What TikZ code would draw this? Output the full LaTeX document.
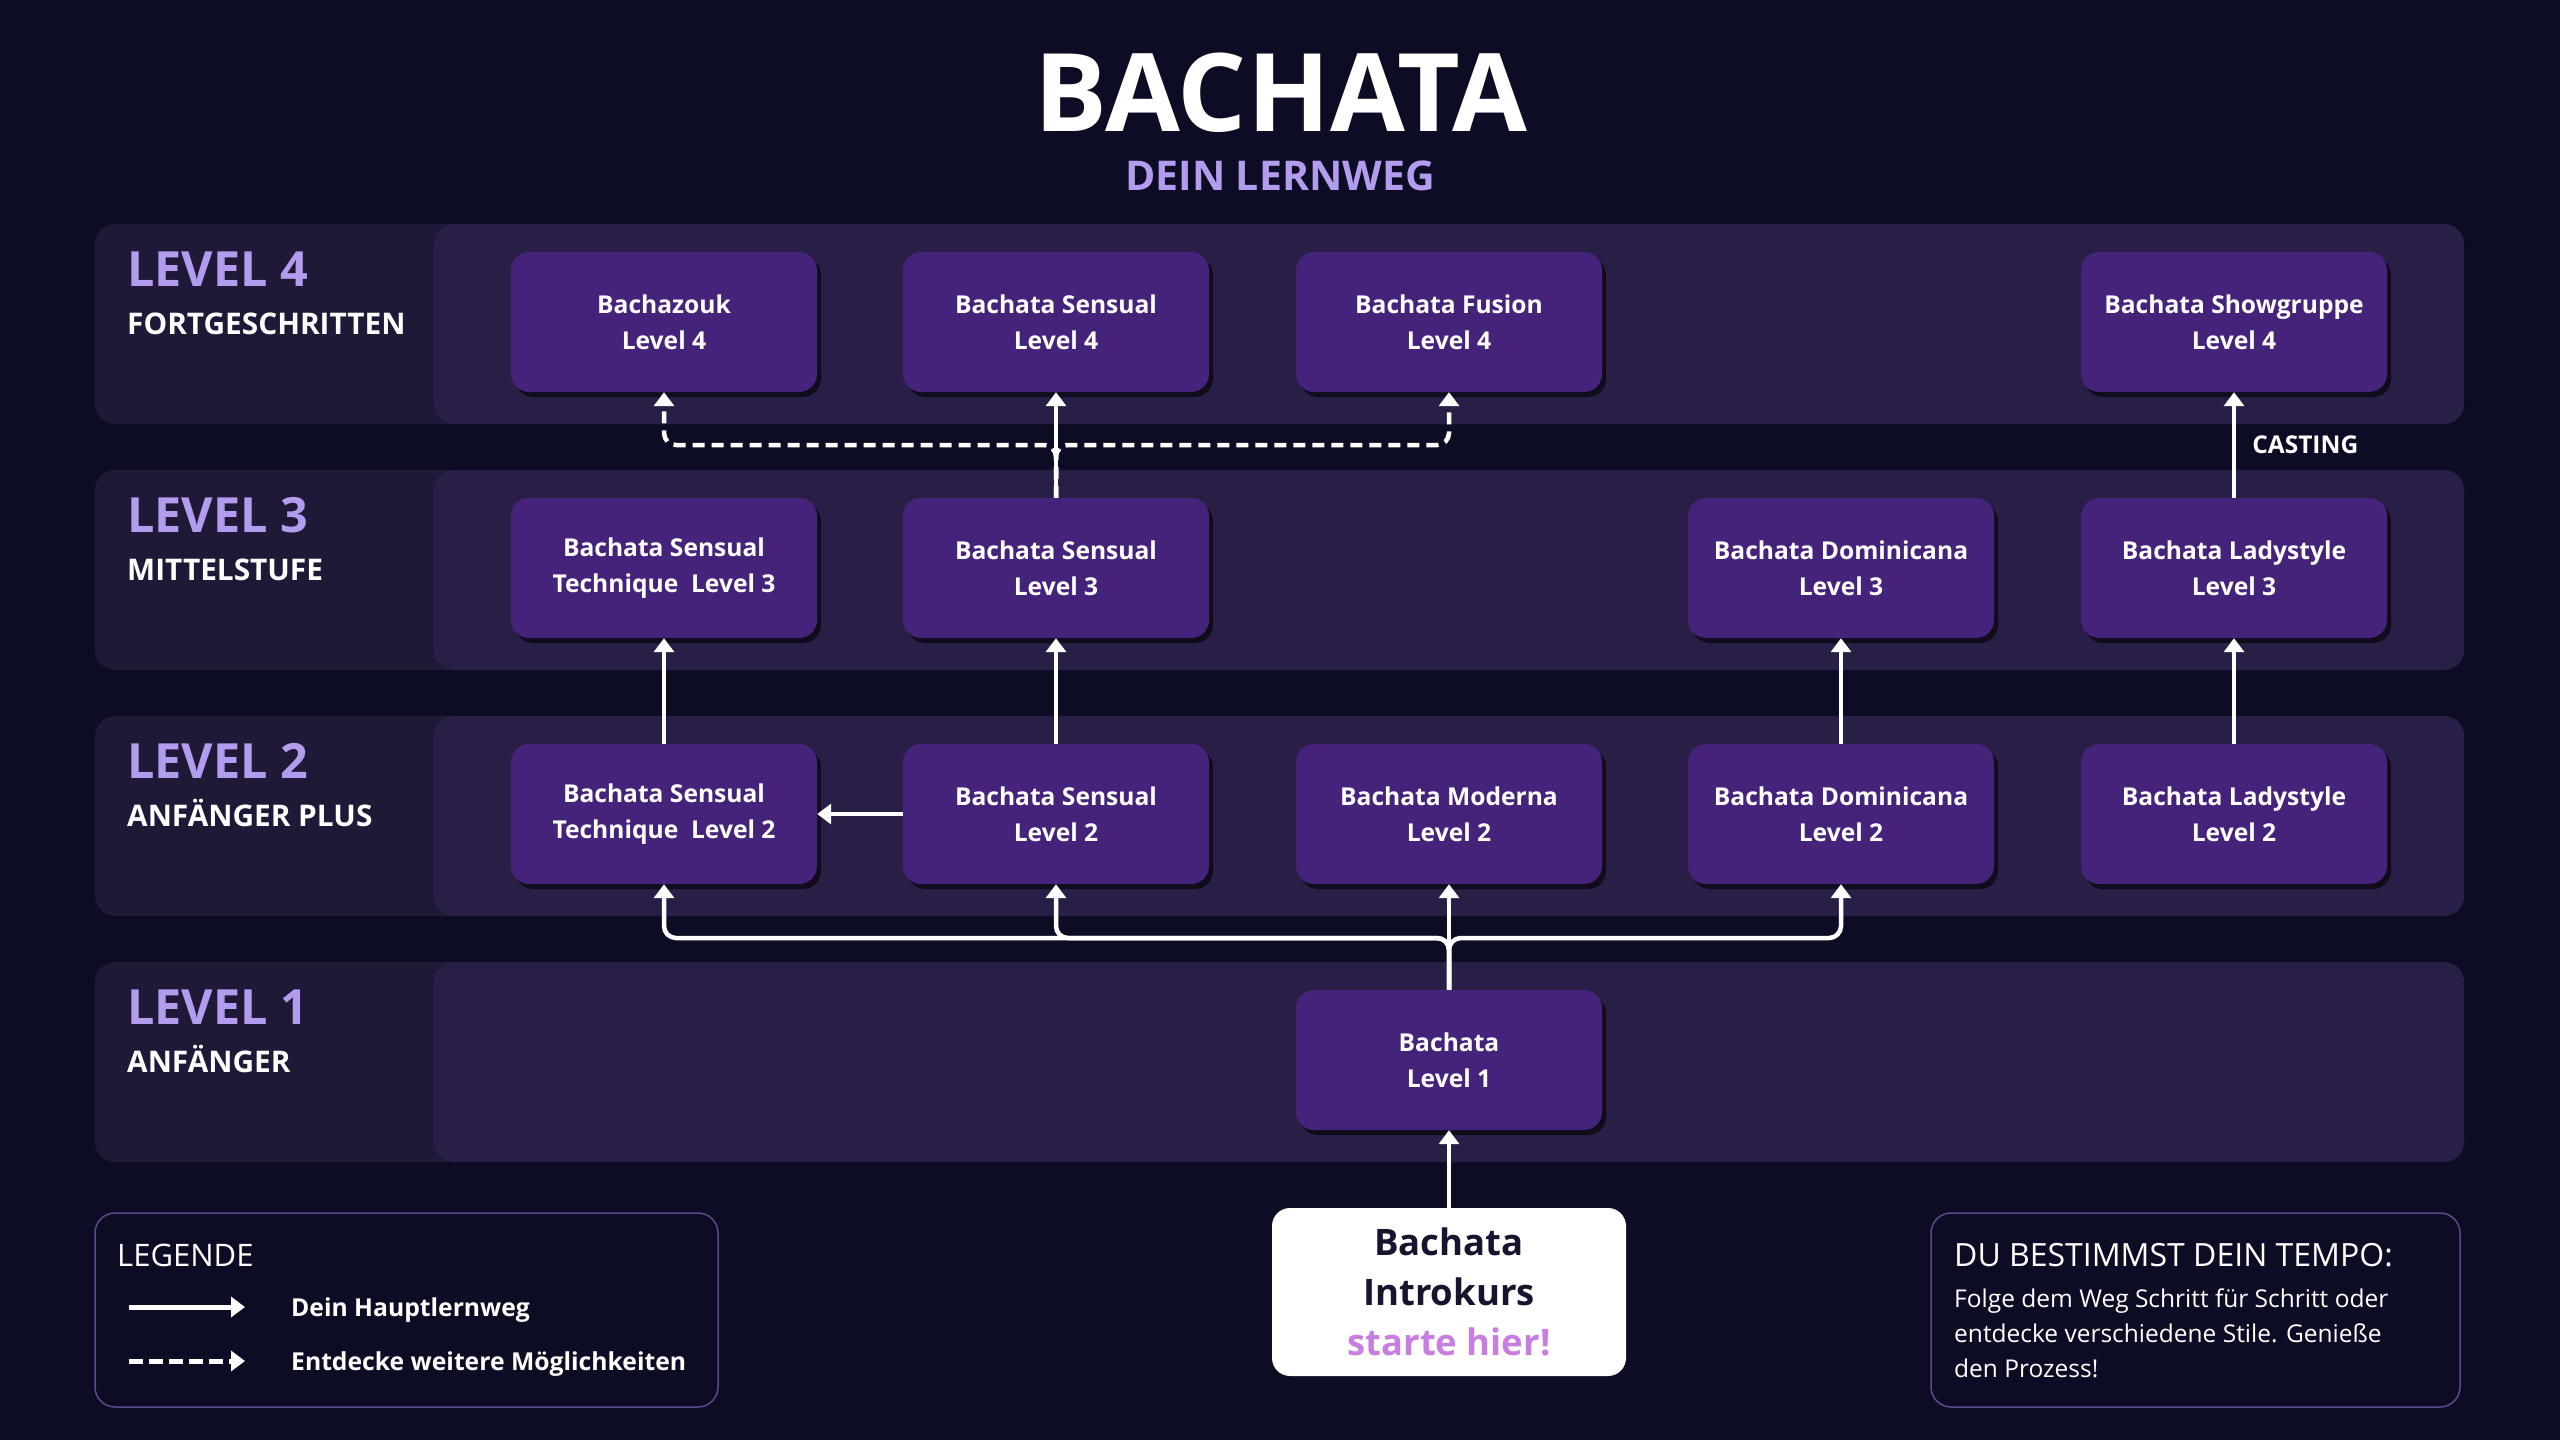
\documentclass[tikz,border=0pt]{standalone}
\usepackage{fontspec}
\setmainfont{Open Sans}
\usetikzlibrary{arrows.meta,shadows,positioning}

\definecolor{bgnavy}{HTML}{0C0C24}
\definecolor{bandouter}{HTML}{1F1836}
\definecolor{bandinner}{HTML}{281E46}
\definecolor{boxpurple}{HTML}{45237A}
\definecolor{lavender}{HTML}{B39CEE}
\definecolor{startpink}{HTML}{C87DE0}
\definecolor{framelav}{HTML}{5A4C8C}
\definecolor{introtext}{HTML}{16142E}

\tikzset{
	course/.style={fill=boxpurple, rounded corners=18pt, minimum width=306pt, minimum height=140pt,
		inner sep=4pt, align=center, text=white, font=\fontsize{24.6}{36}\selectfont\bfseries,
		drop shadow={shadow xshift=4pt, shadow yshift=-5pt, fill=black, opacity=0.6}},
	mainway/.style={draw=white, line width=4.5pt, rounded corners=12pt,
		-{Triangle[length=14pt, width=20pt]}},
	sideway/.style={mainway, dash pattern=on 12pt off 7pt},
	band/.style={fill=bandouter, rounded corners=20pt},
	bandcore/.style={fill=bandinner, rounded corners=20pt},
	levelname/.style={anchor=base west, inner sep=0pt, text=lavender,
		font=\fontsize{48.5}{50}\selectfont\bfseries},
	levelstage/.style={anchor=base west, inner sep=0pt, text=white,
		font=\fontsize{29.8}{32}\selectfont\bfseries},
	infobox/.style={draw=framelav, line width=1.5pt, rounded corners=20pt, inner sep=0pt},
	plain/.style={anchor=base west, inner sep=0pt, text=white},
}

\begin{document}
\begin{tikzpicture}[x=1pt, y=-1pt]
	\useasboundingbox (0,0) rectangle (2560,1440);
	\fill[bgnavy] (0,0) rectangle (2560,1440);

	% title
	\node[anchor=base, inner sep=0pt, text=white, font=\fontsize{108.5}{112}\selectfont\bfseries]
		(title) at (1281,131) {BACHATA};
	\node[anchor=base, inner sep=0pt, text=lavender, font=\fontsize{41}{44}\selectfont\bfseries]
		(subtitle) at (1280,190) {DEIN LERNWEG};

	% level bands
	\fill[band] (95,224) rectangle (2464,424);
	\fill[bandcore] (434,224) rectangle (2464,424);
	\fill[band] (95,470) rectangle (2464,670);
	\fill[bandcore] (434,470) rectangle (2464,670);
	\fill[band] (95,716) rectangle (2464,916);
	\fill[bandcore] (434,716) rectangle (2464,916);
	\fill[band] (95,962) rectangle (2464,1162);
	\fill[bandcore] (434,962) rectangle (2464,1162);

	\node[levelname] (lvl4-name) at (127,286) {LEVEL 4};
	\node[levelstage] (lvl4-stage) at (127,334) {FORTGESCHRITTEN};
	\node[levelname] (lvl3-name) at (127,532) {LEVEL 3};
	\node[levelstage] (lvl3-stage) at (127,580) {MITTELSTUFE};
	\node[levelname] (lvl2-name) at (127,778) {LEVEL 2};
	\node[levelstage] (lvl2-stage) at (127,826) {ANFÄNGER PLUS};
	\node[levelname] (lvl1-name) at (127,1024) {LEVEL 1};
	\node[levelstage] (lvl1-stage) at (127,1072) {ANFÄNGER};

	% courses
	\node[course] (l4-zouk) at (664,322) {Bachazouk\\Level 4};
	\node[course] (l4-sensual) at (1056,322) {Bachata Sensual\\Level 4};
	\node[course] (l4-fusion) at (1449,322) {Bachata Fusion\\Level 4};
	\node[course] (l4-show) at (2234,322) {Bachata Showgruppe\\Level 4};

	\node[course] (l3-tech) at (664,568) {Bachata Sensual\\Technique\ \ Level 3};
	\node[course] (l3-sensual) at (1056,568) {Bachata Sensual\\Level 3};
	\node[course] (l3-domin) at (1841,568) {Bachata Dominicana\\Level 3};
	\node[course] (l3-lady) at (2234,568) {Bachata Ladystyle\\Level 3};

	\node[course] (l2-tech) at (664,814) {Bachata Sensual\\Technique\ \ Level 2};
	\node[course] (l2-sensual) at (1056,814) {Bachata Sensual\\Level 2};
	\node[course] (l2-moderna) at (1449,814) {Bachata Moderna\\Level 2};
	\node[course] (l2-domin) at (1841,814) {Bachata Dominicana\\Level 2};
	\node[course] (l2-lady) at (2234,814) {Bachata Ladystyle\\Level 2};

	\node[course] (l1-bachata) at (1449,1060) {Bachata\\Level 1};

	\node[fill=white, rounded corners=18pt, minimum width=354pt, minimum height=168pt,
		align=center, text=introtext, font=\fontsize{36.5}{50}\selectfont\bfseries]
		(intro) at (1449,1292) {Bachata\\Introkurs\\\textcolor{startpink}{starte hier!}};

	% connectors
	\coordinate (fork) at (1449,938);
	\coordinate (split) at (1056,445);
	\draw[mainway] (intro) -- (l1-bachata);
	\draw[mainway] (l1-bachata.north) -- (fork) -| (l2-tech.south);
	\draw[mainway] (l1-bachata.north) -- (fork) -| (l2-sensual.south);
	\draw[mainway] (l1-bachata.north) -- (fork) -| (l2-domin.south);
	\draw[mainway] (l1-bachata) -- (l2-moderna);
	\draw[mainway] (l2-sensual) -- (l2-tech);
	\draw[mainway] (l2-tech) -- (l3-tech);
	\draw[mainway] (l2-sensual) -- (l3-sensual);
	\draw[mainway] (l2-domin) -- (l3-domin);
	\draw[mainway] (l2-lady) -- (l3-lady);
	\draw[sideway] (l3-sensual.north) -- (split) -| (l4-zouk.south);
	\draw[sideway] (l3-sensual.north) -- (split) -| (l4-fusion.south);
	\draw[mainway] (l3-sensual) -- (l4-sensual);
	\draw[mainway] (l3-lady) -- node[plain, anchor=west, right=16pt,
		font=\fontsize{24.5}{28}\selectfont\bfseries] (casting) {CASTING} (l4-show);

	% legend
	\node[infobox, minimum width=623pt, minimum height=194pt] (legend) at (406.5,1310) {};
	\node[plain, font=\fontsize{31}{34}\selectfont] (legend-head) at (117,1266) {LEGENDE};
	\coordinate (main-from) at (129,1307);
	\coordinate (main-to) at (245,1307);
	\coordinate (side-from) at (129,1361);
	\coordinate (side-to) at (245,1361);
	\draw[mainway, line width=5pt] (main-from) -- (main-to);
	\draw[sideway, line width=5pt, dash pattern=on 14pt off 6pt] (side-from) -- (side-to);
	\node[plain, font=\fontsize{24.7}{28}\selectfont\bfseries] (legend-main) at (291,1316) {Dein Hauptlernweg};
	\node[plain, font=\fontsize{24.7}{28}\selectfont\bfseries] (legend-side) at (291,1370) {Entdecke weitere Möglichkeiten};

	% tempo note
	\node[infobox, minimum width=529pt, minimum height=194pt] (tempo) at (2195.5,1310) {};
	\node[plain, font=\fontsize{32}{34}\selectfont] (tempo-head) at (1954,1266) {DU BESTIMMST DEIN TEMPO:};
	\node[plain, font=\fontsize{24.5}{30}\selectfont] (tempo-line1) at (1954,1307) {Folge dem Weg Schritt für Schritt oder};
	\node[plain, font=\fontsize{24.5}{30}\selectfont] (tempo-line2) at (1954,1342) {entdecke verschiedene Stile. Genieße};
	\node[plain, font=\fontsize{24.5}{30}\selectfont] (tempo-line3) at (1954,1377) {den Prozess!};
\end{tikzpicture}
\end{document}
